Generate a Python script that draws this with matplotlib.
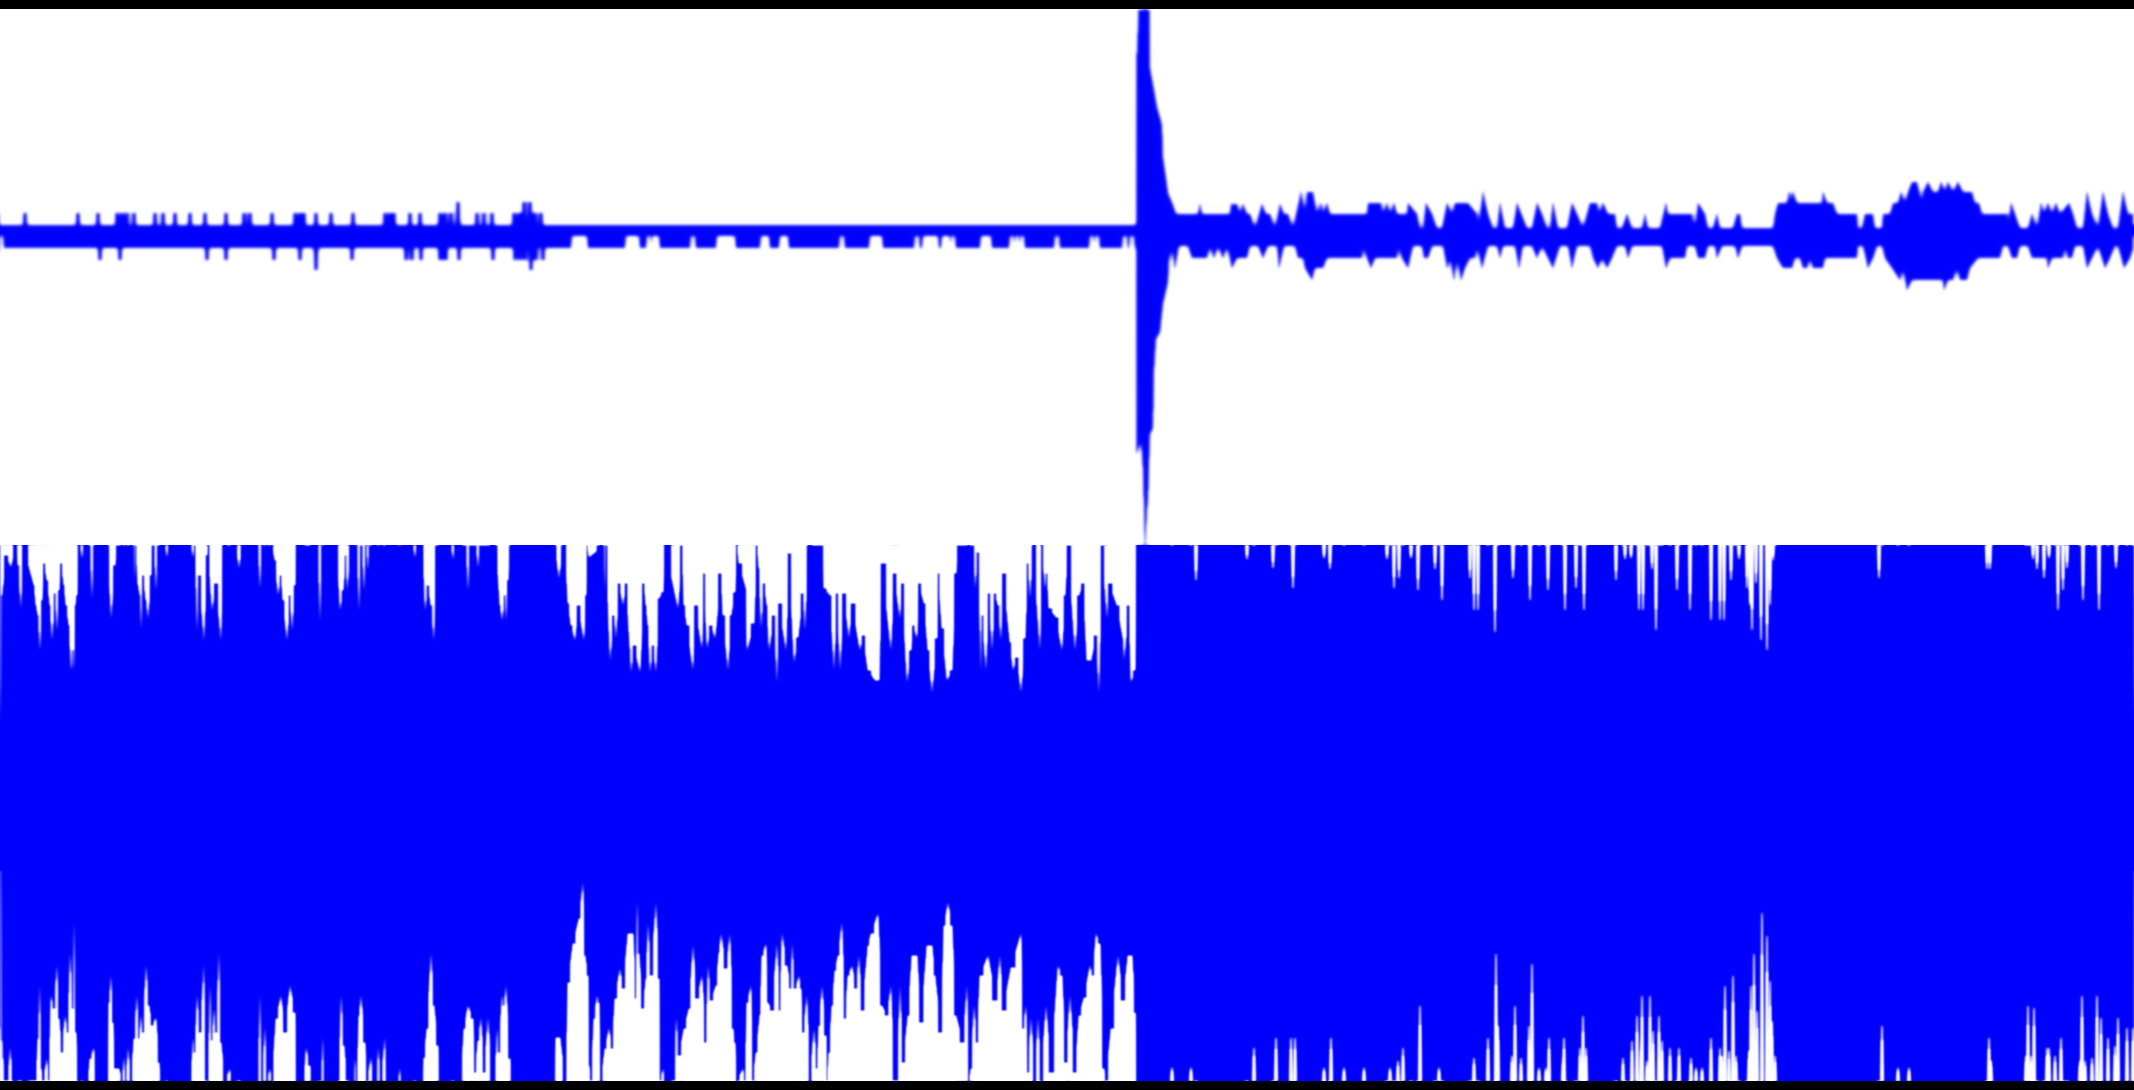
import numpy as np
import matplotlib
matplotlib.use('Agg')
from matplotlib import pyplot as plt

# Waveform picture: two channels stacked.
# Time is in samples (1 sample = one picture column), amplitude in same units upward.

# upper channel, quiet part before the onset: bumps above / below the base band
ch1_base_up = 11
ch1_base_lo = -12
ch1_gap_depth = 13
ch1_up_t = [25,78,98,117,122,127,134,155,163,175,190,205,226,244,250,272,295,300,304,316,331,353,385,390,394,
            410,420,440,445,451,458,477,484,492,514,519,524,530,535,541]
ch1_up_a = [23,23,23,23,23,23,23,23,23,23,23,23,23,23,23,23,23,23,23,23,23,23,23,23,23,
            23,23,23,23,23,34,23,23,23,23,23,34,34,23,23]
ch1_lo_t = [100,120,207,226,274,300,316,352,406,412,421,440,443,446,459,493,515,520,525,531,536,543]
ch1_lo_a = [24,24,24,24,24,24,34,24,24,24,24,24,24,24,24,24,24,24,24,34,24,24]
# places where the lower side of the band drops out
ch1_gap_t = [1,574,578,582,585,628,631,634,637,649,654,657,693,719,722,725,728,731,733,763,767,782,786,842,
             872,876,880,917,925,928,932,936,944,948,953,983,986,989,1012,1017,1022,1057,1092,1097,1125,1132]

# upper channel from the onset on
ch1_env_up_t = [1137,1139,1149.5,1150,1157,1162,1163,1166,1168,1173,1176,1198,1200,1202,1230,1231,1237,1240,1243,1247,
    1250,1255,1262,1266,1270,1275,1280,1284,1288,1293,1301,1305,1307,1313,1317,1321,1323,1327,1330,1367,1368,1381,
    1383,1387,1390,1394,1397,1407,1408,1417,1420,1423,1426,1432,1437,1442,1447,1452,1455,1468,1477,1478,1483,1488,
    1493,1497,1500,1505,1513,1517,1527,1532,1537,1542,1547,1550,1553,1558,1567,1572,1577,1583,1590,1597,1599,1603,
    1608,1615,1617,1622,1627,1632,1642,1645,1648,1660,1666,1668,1692,1695,1698,1705,1708,1713,1717,1720,1733,1737,
    1740,1742,1773,1775,1778,1787,1789,1791,1793,1797,1822,1823,1827,1833,1837,1857,1858,1862,1865,1873,1875,1882,
    1883,1890,1893,1898,1901,1905,1908,1912,1917,1922,1923,1928,1933,1938,1941,1945,1948,1953,1958,1963,1972,1975,
    1979,1982,2007,2008,2011,2015,2020,2028,2032,2037,2041,2044,2048,2052,2056,2060,2069,2073,2077,2083,2087,2092,
    2098,2103,2108,2113,2118,2123,2128,2134]
ch1_env_up_a = [182,240,240,168,129,111,79,58,43,31,22,22,32,22,22,32,32,22,32,22,
    22,8,32,22,22,8,32,22,22,8,44,22,44,44,22,33,22,33,22,22,33,33,
    22,33,22,33,22,22,33,22,8,8,33,22,8,8,33,22,33,33,22,8,44,22,
    8,8,33,8,8,33,8,8,33,22,8,8,33,8,8,33,22,8,33,33,22,33,
    22,22,8,8,22,8,8,22,8,8,33,22,22,8,33,22,8,8,22,8,8,22,
    22,8,8,22,33,33,44,33,44,33,33,44,33,33,22,22,8,8,22,22,8,8,
    22,22,33,33,44,33,44,54,54,33,44,54,44,44,54,44,54,44,54,44,44,33,
    33,22,22,8,33,22,8,8,22,8,33,22,33,22,33,22,33,22,8,8,44,22,
    8,44,22,8,8,44,22,22]
ch1_env_lo_t = [1136.5,1141,1143,1145,1147,1148,1150,1153,1154,1156,1160,1163,1168,1169,1172,1175,1179,1188,1192,1207,
    1210,1214,1218,1223,1227,1232,1237,1247,1250,1258,1263,1268,1277,1279,1284,1295,1298,1303,1305,1312,1315,1317,
    1323,1327,1362,1363,1367,1371,1375,1397,1398,1402,1408,1413,1422,1424,1428,1432,1443,1447,1450,1454,1457,1461,
    1465,1470,1475,1477,1482,1488,1497,1500,1503,1515,1519,1523,1532,1537,1542,1553,1560,1568,1572,1577,1590,1593,
    1598,1602,1607,1612,1617,1625,1628,1632,1662,1666,1670,1685,1687,1695,1698,1705,1708,1715,1717,1722,1735,1738,
    1742,1773,1777,1783,1792,1795,1800,1803,1807,1810,1813,1823,1825,1857,1858,1863,1868,1873,1877,1882,1885,1892,
    1900,1903,1907,1912,1927,1943,1944,1948,1953,1957,1960,1967,1970,1978,2000,2003,2008,2012,2017,2020,2028,2032,
    2047,2048,2052,2063,2065,2068,2072,2075,2083,2087,2092,2098,2105,2110,2115,2118,2124,2130,2134]
ch1_env_lo_a = [-217,-204,-234,-309,-274,-264,-198,-192,-135,-103,-96,-68,-46,-25,-12,-32,-10,-10,-22,-22,
    -10,-22,-10,-22,-10,-32,-22,-22,-10,-10,-22,-10,-10,-32,-10,-10,-22,-22,-32,-44,-32,-32,
    -32,-22,-22,-10,-22,-32,-22,-22,-10,-22,-32,-10,-10,-22,-22,-10,-10,-32,-22,-44,-22,-44,
    -32,-22,-22,-10,-32,-10,-10,-22,-10,-10,-32,-10,-10,-22,-10,-32,-10,-10,-32,-10,-10,-22,
    -32,-22,-32,-22,-10,-10,-22,-10,-10,-32,-22,-22,-10,-10,-22,-22,-10,-10,-22,-10,-10,-22,
    -10,-10,-22,-32,-32,-22,-22,-32,-32,-22,-32,-32,-22,-22,-10,-10,-32,-22,-10,-10,-22,-32,
    -44,-32,-54,-44,-44,-44,-54,-44,-44,-32,-44,-44,-32,-22,-22,-10,-10,-22,-22,-10,-10,-22,
    -22,-32,-22,-22,-10,-22,-22,-10,-10,-32,-22,-10,-32,-22,-10,-10,-32,-22,-10]

# lower channel, how far the clipped signal falls short of full scale, positive side
ch2_up_t = [0.5,2,6,11,15,17,18,21,23,34,36,38,40,42,44,47,50,52,55,57,59,61,64,66,69,71,73,74,75,77,78,
    80,82,84,90,92,94,108,111,115,117,134,135,136,138,140,141,143,146,148,151,152,154,156,158,165,167,169,
    191,193,195,197,199,204,207,208,212,216,221,223,236,239,242,258,260,262,272,275,278,281,283,287,290,292,295,296,
    318,320,322,337,340,343,346,347,351,357,359,361,362,364,366,368,369,371,413,415,417,423,425,428,431,434,436,
    451,453,455,466,468,470,476,478,480,496,500,502,505,506,508,510,555,559,563,565,568,571,575,578,584,586,587,589,
    604,605,606,610,614,616,619,623,626,630,631,634,640,644,646,648,650,653,656,659,663,665,678,682,684,687,693,695,702,704,707,
    711,715,721,723,728,731,735,737,739,746,747,754,757,759,761,764,767,769,774,777,779,786,789,794,798,803,805,808,823,824,830,
    834,837,840,844,849,852,860,863,868,875,879,882,891,894,900,902,907,911,913,917,919,924,928,932,937,938,942,947,952,956,958,
    974,975,978,981,982,986,989,992,995,998,1001,1003,1010,1013,1017,1021,1025,1028,1030,1033,1040,1042,1045,1047,1049,1056,1062,
    1065,1068,1075,1079,1083,1087,1091,1096,1099,1102,1107,1109,1117,1123,1124,1129,1131,1135,1136.5]
ch2_up_d = [175,50,10,22,0,0,20,63,0,40,60,70,105,55,18,35,60,95,48,85,45,18,40,60,80,125,105,125,60,50,0,
    0,13,0,0,53,0,0,73,20,0,0,33,0,40,50,83,30,55,73,30,0,0,45,0,0,12,0,
    0,12,0,85,30,95,10,0,65,38,95,0,0,23,0,0,43,0,0,15,50,30,55,95,50,85,40,0,
    0,75,0,0,65,45,10,45,0,0,65,0,0,45,0,25,0,0,0,12,0,0,65,40,60,95,0,
    0,14,0,0,45,0,0,22,0,0,60,75,50,75,35,0,0,33,0,0,58,80,95,60,95,50,0,12,
    0,43,0,115,70,93,38,60,38,103,127,100,127,38,60,80,127,100,127,53,47,0,63,0,60,80,125,60,103,28,103,
    80,93,28,70,125,70,47,0,18,43,105,78,0,23,83,38,60,105,70,137,58,105,8,117,92,48,85,0,0,43,50,
    125,48,125,48,93,58,105,90,125,135,135,18,105,28,73,38,137,105,80,93,38,58,105,147,93,28,83,135,125,28,0,
    0,43,7,125,70,125,48,105,48,60,95,28,97,125,112,147,93,18,53,0,105,0,43,28,63,72,105,
    50,0,105,50,38,115,115,90,147,0,73,38,60,93,115,60,137,125,0]

# positive side after the onset, mostly unbroken
ch2_up2_t = [1196,1247,1273,1293,1324,1330,1387,1394,1399,1411,1418,1435,1442,1470,1474,1478,1495,1513,1530,1548,1565,1576,1584,
    1616,1625,1631,1639,1643,1652,1656,1677,1690,1711,1720,1724,1731,1739,1747,1750,1752,1756,1761,1767,1770,1773,
    1879,1987,1990,2033,2037,2044,2049,2058,2063,2067,2083,2099,2116]
ch2_up2_d = [35,14,23,43,13,24,14,43,33,13,45,24,55,33,65,65,87,33,55,45,65,43,65,
    35,14,13,65,65,24,85,45,65,75,75,75,35,14,43,60,85,38,95,105,60,15,
    33,24,24,14,24,33,13,65,45,23,55,65,23]

# lower channel, negative side up to the onset
ch2_lo_t = [0.5,1,2,3,4.5,8,10,13,36,38,40,41,43,47,49,51,54,57,59,62,65,68,70,73,74,76,78,88,90,94,95,108,109,111,113,115,119,122,
    124,126,128,131,134,137,139,141,143,146,149,152,156,159,161,191,193,195,197,200,204,205.5,208,210,212,214,216,219,221,225,
    230,231,258,260,262,265,267,270,272,276,281,285,290,295,296,304,306,310,311,321,323,324,339,341,344,347,354,355,357,359,361,
    365,367,371,373,377,378,381,385,386,398,400,401,423,424,427,431,434,438,439,461,464,468,473,475,478,481,484,488,492,
    495,497,499,502,504,506,510,511,555,556,560,565,566,568,573,579,583,585,588,589,591,594,597,599,601,605,609,612,615,620,623,
    628,633,636,637,639,643,646,648,651,656,659,660,663,665,675,676,679,684,689,693,697,702,706,708,711,716,719,721,726,730,733,
    735,737,743,745,747,751,753,756,760,762,766,768,772,777,780,782,787,791,792,795,799,801,803,807,810,814,817,819,822,826,827,
    829,832,835,838,842,845,848,852,856,859,862,868,871,878,882,887,891,894,897,900,903,908,912,917,921,927,932,935,941,944,948,
    952,956,963,967,969,971,974,977,980,988,996,1000,1003,1011,1021,1023,1026,1028,1031,1035,1038,1041,1046,1051,1058,1062,1066,
    1070,1075,1079,1084,1090,1093,1096,1100,1104,1106,1111,1118,1123,1128,1132,1135.5,1136.5]
ch2_lo_d = [210,210,40,22,0,0,33,0,0,42,95,12,0,22,0,85,72,115,62,28,65,48,127,72,158,48,0,0,22,33,0,0,78,105,58,12,12,0,
    23,0,33,0,42,85,42,65,48,115,75,55,63,18,0,0,42,28,85,48,115,0,0,95,40,72,48,127,38,0,
    12,0,0,85,0,53,0,12,0,62,85,48,95,68,0,0,33,15,0,0,43,0,0,85,35,0,0,22,0,65,85,
    38,0,23,0,0,33,0,43,0,0,12,0,0,23,52,127,75,35,0,0,52,75,62,8,40,63,8,63,0,
    0,52,28,85,75,95,22,0,0,43,43,0,0,98,137,162,198,125,105,15,0,62,85,78,0,32,53,32,82,112,92,
    147,147,82,178,127,72,102,157,105,178,102,0,12,0,0,63,25,52,72,135,82,105,38,115,80,95,128,147,112,147,52,
    38,0,12,0,78,95,0,28,66,125,137,78,70,137,70,147,115,92,137,92,105,92,48,85,0,52,12,55,95,45,0,
    28,75,110,125,158,62,105,115,92,125,70,135,147,167,75,65,95,0,0,95,18,65,125,125,58,135,135,105,48,155,178,
    155,65,38,95,0,12,75,38,105,125,80,125,70,113,147,52,75,8,63,0,63,0,75,8,115,105,18,
    85,8,65,83,115,105,147,137,12,0,52,125,80,125,125,68,0]

# negative side after the onset
ch2_lo2_t = [1172,1191,1254,1276,1291,1295,1324,1331,1344,1364,1390,1398,1403,1420,1439,1474,1488,1496,1498,1512,1515,1521,1529,1532,
    1539,1546,1549,1563,1564,1580,1583,1586,1623,1632,1637,1641,1642,1647,1650,1653,1659,1662,1670,1679,1691,1696,1702,1711,
    1720,1722,1725,1729,1733,1736,1749,1751,1754,1757,1762,1767,1770,1772,1775,1882,1898,1909,1989,1991,2026,2028,2031,2034,2047,2049,
    2055,2061,2080,2082,2085,2092,2097,2101,2108,2115,2118,2127,2133]
ch2_lo2_d = [13,13,33,43,43,43,13,43,13,13,13,20,33,75,13,23,43,127,55,25,75,23,55,117,
    13,13,43,23,43,33,65,33,23,40,65,40,85,20,85,50,65,40,33,33,23,13,13,43,
    33,25,95,30,105,25,30,95,127,70,168,145,100,60,25,55,13,13,43,20,25,75,25,73,33,33,
    25,43,20,85,20,23,85,63,43,35,63,53,53]

# how the picture is laid out
PIC_W, PIC_H = 2134, 1090
BAR = 9
MID = 545
CH1_CENTRE = 236
CH2_FULL = 268
BLUE = '#0000ff'


def blur(passes):
    # soft edge of an upscaled raster, a few rounds of 1-2-1 smoothing
    def agg_blur(image, dpi):
        out = image.astype(float)
        for i in range(passes):
            out = (np.roll(out, 1, 0) + 2*out + np.roll(out, -1, 0))/4
            out = (np.roll(out, 1, 1) + 2*out + np.roll(out, -1, 1))/4
        return out, 0, 0
    return agg_blur


def spikes(grid, t_list, a_list, flat, slope):
    # keep highest of all spikes at each sample
    res = np.zeros_like(grid)
    for t, a in zip(t_list, a_list):
        shape = np.clip((flat + slope - np.abs(grid - t))/slope, 0, 1)
        res = np.maximum(res, a*shape)
    return res


def stepped(grid, t, d):
    # the envelope goes in steps, not slopes: take the smaller of slope and nearest reading
    t = np.asarray(t, dtype=float)
    d = np.asarray(d, dtype=float)
    slope = np.interp(grid, t, d, left=0, right=0)
    idx = np.clip(np.searchsorted(t, grid), 1, len(t) - 1)
    near = np.where(grid - t[idx - 1] < t[idx] - grid, d[idx - 1], d[idx])
    near[(grid < t[0]) | (grid > t[-1])] = 0
    return np.minimum(slope, near)


def edge(grid, t_a, d_a, t_b, d_b):
    d = stepped(grid, t_a, d_a)
    d = np.maximum(d, spikes(grid, t_b, d_b, 0.7, 1.2))
    a = CH2_FULL - d
    a[d < 0.5] = CH2_FULL + 20
    return a


grid = np.arange(0, PIC_W + 0.25, 0.25)
onset = 1136.5

# channel 1 envelope
up1 = np.full_like(grid, ch1_base_up, dtype=float)
up1 = np.maximum(up1, spikes(grid, ch1_up_t, ch1_up_a, 1.5, 1.5))
lo1 = np.full_like(grid, ch1_base_lo, dtype=float)
gap = spikes(grid, ch1_gap_t, [ch1_gap_depth]*len(ch1_gap_t), 2.0, 1.0)
lo1 = lo1 + gap
lo1 = np.minimum(lo1, -spikes(grid, ch1_lo_t, ch1_lo_a, 1.5, 1.5))
after = grid >= onset
up1[after] = np.interp(grid[after], ch1_env_up_t, ch1_env_up_a)
lo1[after] = np.interp(grid[after], ch1_env_lo_t, ch1_env_lo_a)

# channel 2 envelope
up2 = edge(grid, ch2_up_t, ch2_up_d, ch2_up2_t, ch2_up2_d)
lo2 = -edge(grid, ch2_lo_t, ch2_lo_d, ch2_lo2_t, ch2_lo2_d)

fig = plt.figure(figsize=(PIC_W/100, PIC_H/100), dpi=100, facecolor='black')
ax2 = fig.add_axes([0, BAR/PIC_H, 1, (PIC_H - MID - BAR)/PIC_H])
ax1 = fig.add_axes([0, (PIC_H - MID)/PIC_H, 1, (MID - BAR)/PIC_H])

ax1.fill_between(grid, lo1, up1, color=BLUE, lw=1).set_agg_filter(blur(3))
ax2.fill_between(grid, lo2, up2, color=BLUE, lw=0).set_agg_filter(blur(1))

ax1.set_xlim(0, PIC_W)
ax1.set_ylim(CH1_CENTRE - MID, CH1_CENTRE - BAR)
ax2.set_xlim(0, PIC_W)
ax2.set_ylim(-CH2_FULL, CH2_FULL)
for ax in (ax1, ax2):
    ax.set_facecolor('white')
    ax.set_xticks([])
    ax.set_yticks([])
    for s in ax.spines.values():
        s.set_visible(False)

fig.savefig('out.png', dpi=100, facecolor=fig.get_facecolor())
